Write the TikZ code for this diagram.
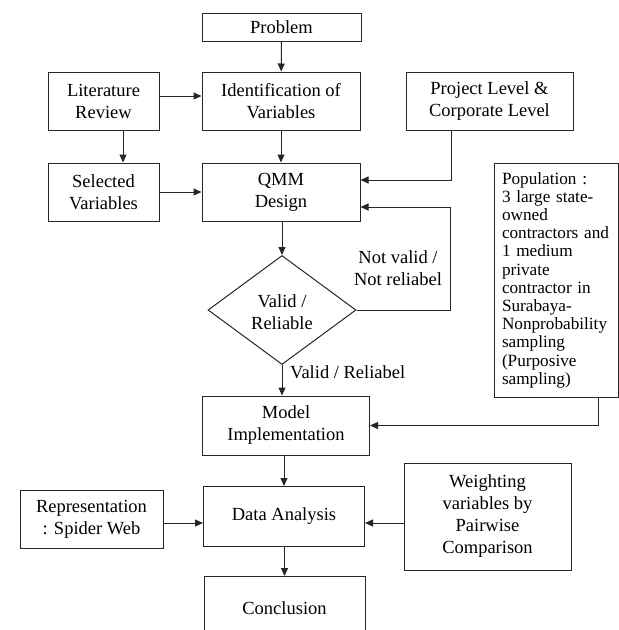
\documentclass[tikz,border=0pt]{standalone}
\usepackage{fontspec}
\setmainfont{Liberation Serif}
\usetikzlibrary{arrows.meta,shapes.geometric}
\newcommand\mainfs{\fontsize{18.5}{22}\selectfont}
\newcommand\popfs{\fontsize{17.2}{18.2}\selectfont}
\begin{document}
\begin{tikzpicture}[x=1pt,y=-1pt,
  box/.style={draw=black!85, line width=1pt, align=center, inner sep=0pt, font=\mainfs},
  arr/.style={draw=black!85, line width=1pt, -{Triangle[length=8pt,width=7pt]}},
  lbl/.style={inner sep=0pt, font=\mainfs, align=center}]
\useasboundingbox (0,0) rectangle (619,630);
\clip (0,0) rectangle (619,630);
\node[box, minimum width=159pt, minimum height=28pt] (prob) at (281.5,27) {Problem};
\node[box, minimum width=158pt, minimum height=58pt] (ident) at (281,101) {Identification of\\Variables};
\node[box, minimum width=111pt, minimum height=58pt] (lit) at (103.5,101) {Literature\\Review};
\node[box, minimum width=111pt, minimum height=58pt] (sel) at (103.5,192) {Selected\\Variables};
\node[box, minimum width=158pt, minimum height=58pt] (qmm) at (281,192) {QMM\\Design};
\node[box, minimum width=167pt, minimum height=58pt] (proj) at (489.5,101) {Project Level \&\\Corporate Level};
\node[box, minimum width=124pt, minimum height=234pt, inner xsep=8pt, text width=108pt, align=left, font=\popfs] (pop) at (556,280)
  {Population :\\3 large state-\\owned\\contractors and\\1 medium\\private\\contractor in\\Surabaya-\\Nonprobability\\sampling\\(Purposive\\sampling)};
\node[box, diamond, minimum width=148pt, minimum height=109pt] (dia) at (282,310) {};
\node[lbl] (diat) at (282,312) {Valid /\\Reliable};
\node[box, minimum width=167pt, minimum height=59pt] (model) at (286,425.5) {Model\\Implementation};
\node[box, minimum width=161pt, minimum height=60pt] (data) at (284,516.5) {Data Analysis};
\node[box, minimum width=143pt, minimum height=58pt] (rep) at (91.5,519) {Representation\\: Spider Web};
\node[box, minimum width=167pt, minimum height=107pt] (weight) at (487.5,516.5) {Weighting\\variables by\\Pairwise\\Comparison};
\node[box, minimum width=161pt, minimum height=84pt, anchor=north] (concl) at (284.5,576) {};
\node[lbl] (conclt) at (284.5,608) {Conclusion};
\node[lbl] (nv) at (398,268) {Not valid /\\Not reliabel};
\node[lbl, anchor=west] (vr) at (290,372) {Valid / Reliabel};
\coordinate (fb) at (450,207);
\coordinate (yr) at (0,523);
\draw[arr] (prob) -- (ident);
\draw[arr] ([yshift=5pt]lit.east) -- ([yshift=5pt]ident.west);
\draw[arr] ([xshift=19.5pt]lit.south) -- ([xshift=19.5pt]sel.north);
\draw[arr] (ident) -- (qmm);
\draw[arr] (sel) -- (qmm);
\draw[arr] ([xshift=-38.5pt]proj.south) |- ([yshift=12pt]qmm.east);
\draw[arr] (dia.east) -| (fb) -- ([yshift=-15pt]qmm.east);
\draw[arr] (qmm.south -| dia.north) -- (dia.north);
\draw[arr] (dia.south) -- (dia.south |- model.north);
\draw[arr] ([xshift=42pt]pop.south) |- (model.east);
\draw[arr] (model.south -| data.north) -- (data.north);
\draw[arr] (rep.east |- yr) -- (data.west |- yr);
\draw[arr] (weight.west |- yr) -- (data.east |- yr);
\draw[arr] (data.south -| concl.north) -- (concl.north);
\end{tikzpicture}
\end{document}
